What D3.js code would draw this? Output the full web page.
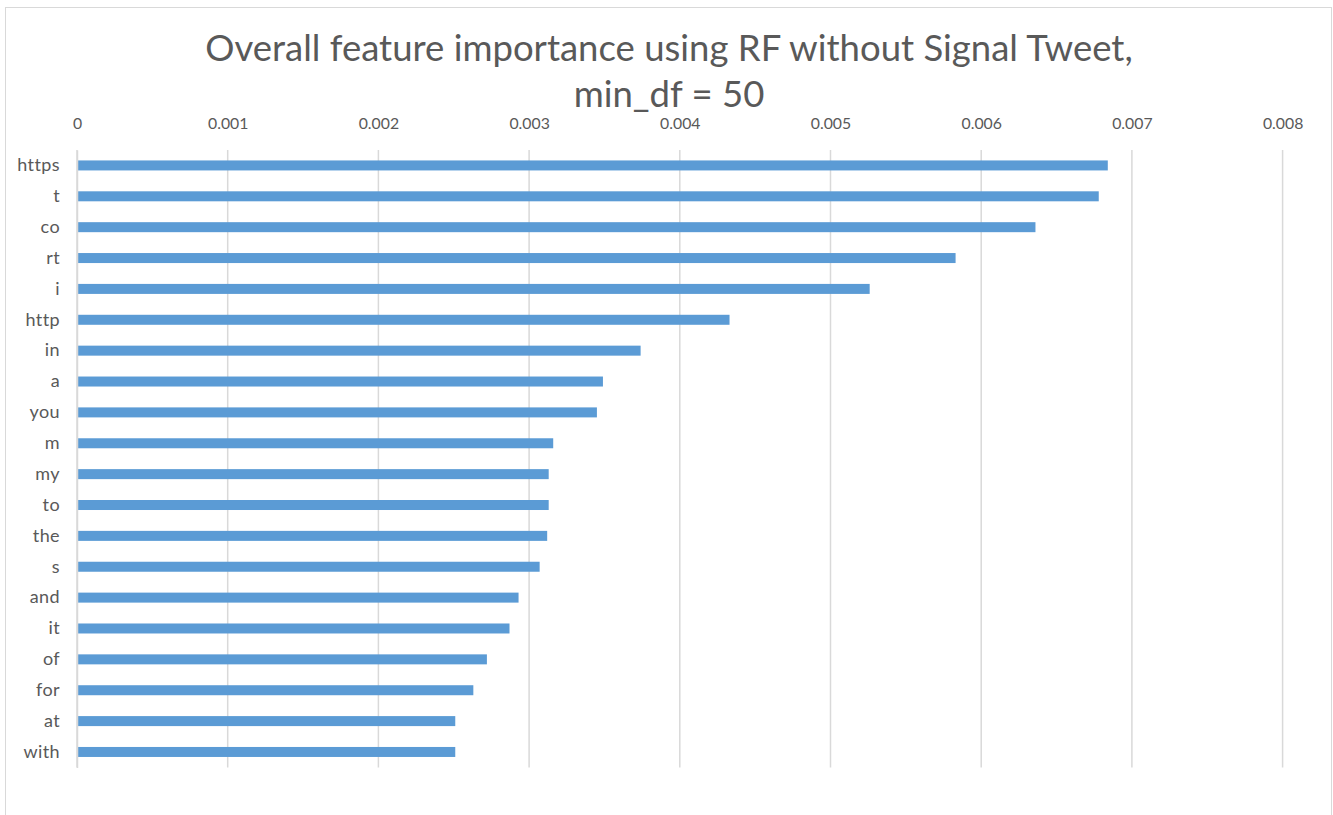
<!DOCTYPE html>
<html>
<head>
<meta charset="utf-8">
<script src="https://cdn.jsdelivr.net/npm/d3@7/dist/d3.min.js"></script>
<style>
  html, body { margin: 0; padding: 0; background: #fff; }
  svg { display: block; }
</style>
</head>
<body>
<svg id="chart" width="1333" height="815"></svg>
<script>
// Feature names, most important first
const categories = ["https", "t", "co", "rt", "i", "http", "in", "a", "you", "m",
                    "my", "to", "the", "s", "and", "it", "of", "for", "at", "with"];
// Random-forest importance per feature
const importance = [0.00684, 0.00678, 0.00636, 0.00583, 0.00526, 0.00433, 0.00374, 0.00349, 0.00345, 0.00316,
                    0.00313, 0.00313, 0.00312, 0.00307, 0.00293, 0.00287, 0.00272, 0.00263, 0.00251, 0.00251];
// Value-axis ticks
const tickValues = [0, 0.001, 0.002, 0.003, 0.004, 0.005, 0.006, 0.007, 0.008];
const titleLines = ["Overall feature importance using RF without Signal Tweet,", "min_df = 50"];

const font = "Lato, 'Open Sans', sans-serif";
const textColor = "#595959";
const gridColor = "#d9d9d9";
const barColor = "#5b9bd5";

const svg = d3.select("#chart");

// chart frame
svg.append("rect")
  .attr("x", 5.5).attr("y", 7.5)
  .attr("width", 1326).attr("height", 830)
  .attr("fill", "#fff").attr("stroke", gridColor).attr("stroke-width", 1);

const plot = { left: 77, right: 1282.6, top: 150, bottom: 767.4 };

const x = d3.scaleLinear().domain([0, 0.008]).range([plot.left, plot.right]);
const y = d3.scaleBand().domain(categories)
  .range([plot.top, plot.bottom])
  .paddingInner(0.676).paddingOuter(0.338);

// vertical gridlines
svg.append("g").selectAll("line")
  .data(tickValues)
  .join("line")
  .attr("x1", d => x(d)).attr("x2", d => x(d))
  .attr("y1", plot.top).attr("y2", plot.bottom)
  .attr("stroke", gridColor).attr("stroke-width", 1.5);

// top value axis (labels only)
const xAxis = d3.axisTop(x).tickValues(tickValues).tickSize(0).tickPadding(0)
  .tickFormat(d => d === 0 ? "0" : d3.format(".3f")(d));
const gx = svg.append("g").attr("transform", `translate(0, 128.5)`).call(xAxis);
gx.select(".domain").remove();
gx.selectAll("text")
  .attr("fill", textColor).attr("font-family", font).attr("font-size", 15.8);

// bars
svg.append("g").selectAll("rect")
  .data(categories)
  .join("rect")
  .attr("x", x(0))
  .attr("y", d => y(d))
  .attr("width", (d, i) => x(importance[i]) - x(0))
  .attr("height", y.bandwidth())
  .attr("fill", barColor);

// category axis
const yAxis = d3.axisLeft(y).tickSize(0).tickPadding(17);
const gy = svg.append("g").attr("transform", `translate(${plot.left}, 0)`).call(yAxis);
gy.select(".domain").attr("stroke", gridColor).attr("stroke-width", 1.5);
gy.selectAll("text")
  .attr("fill", textColor).attr("font-family", font).attr("font-size", 18)
  .attr("letter-spacing", 0.4);

// title
svg.append("g").selectAll("text")
  .data(titleLines)
  .join("text")
  .attr("x", 669)
  .attr("y", (d, i) => 60.5 + i * 46.5)
  .attr("text-anchor", "middle")
  .attr("fill", textColor)
  .attr("font-family", font)
  .attr("font-size", 36.5)
  .text(d => d);
</script>
</body>
</html>
